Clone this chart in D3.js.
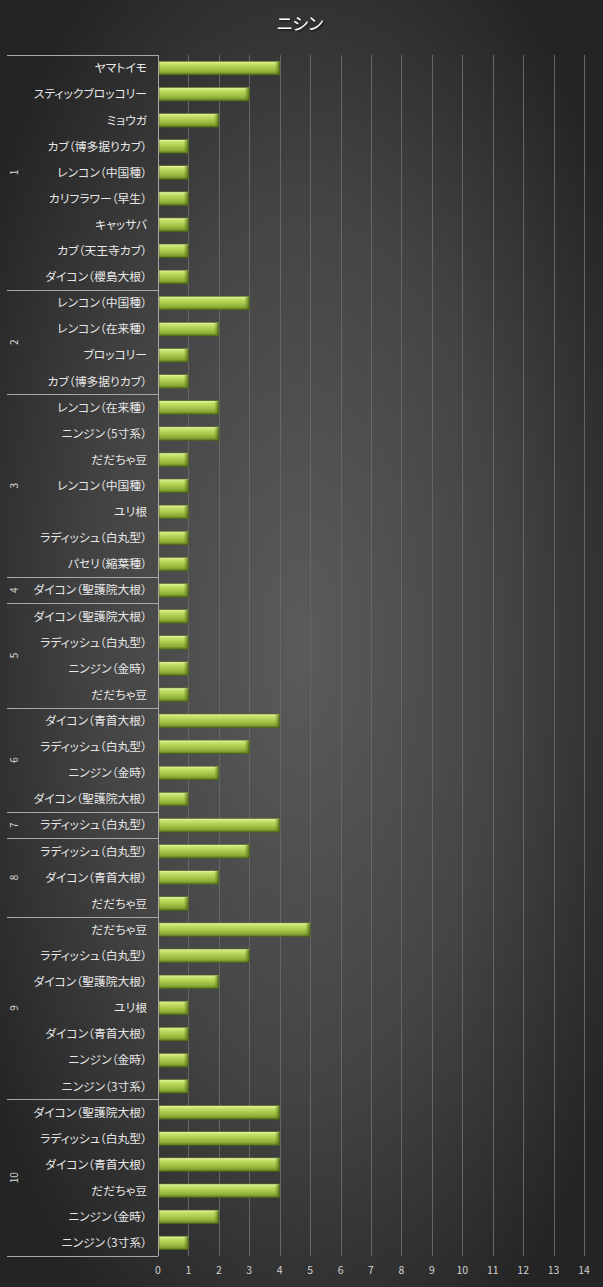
<!DOCTYPE html>
<html><head><meta charset="utf-8">
<script src="https://cdn.jsdelivr.net/npm/d3@7"></script>
<style>
html,body{margin:0;padding:0;background:#2a2a2a;}
svg{display:block;}
text{font-feature-settings:"palt";}
</style></head>
<body>
<div id="chart"></div>
<script>
const title = "ニシン";
const groupNames = ["1","2","3","4","5","6","7","8","9","10"];
const groupSizes = [9,4,7,1,4,4,1,3,7,6];
const categories = [
 "ヤマトイモ","スティックブロッコリー","ミョウガ","カブ（博多据りカブ）","レンコン（中国種）","カリフラワー（早生）","キャッサバ","カブ（天王寺カブ）","ダイコン（櫻島大根）",
 "レンコン（中国種）","レンコン（在来種）","ブロッコリー","カブ（博多据りカブ）",
 "レンコン（在来種）","ニンジン（5寸系）","だだちゃ豆","レンコン（中国種）","ユリ根","ラディッシュ（白丸型）","パセリ（縮葉種）",
 "ダイコン（聖護院大根）",
 "ダイコン（聖護院大根）","ラディッシュ（白丸型）","ニンジン（金時）","だだちゃ豆",
 "ダイコン（青首大根）","ラディッシュ（白丸型）","ニンジン（金時）","ダイコン（聖護院大根）",
 "ラディッシュ（白丸型）",
 "ラディッシュ（白丸型）","ダイコン（青首大根）","だだちゃ豆",
 "だだちゃ豆","ラディッシュ（白丸型）","ダイコン（聖護院大根）","ユリ根","ダイコン（青首大根）","ニンジン（金時）","ニンジン（3寸系）",
 "ダイコン（聖護院大根）","ラディッシュ（白丸型）","ダイコン（青首大根）","だだちゃ豆","ニンジン（金時）","ニンジン（3寸系）"
];
const values = [
 4,3,2,1,1,1,1,1,1,
 3,2,1,1,
 2,2,1,1,1,1,1,
 1,
 1,1,1,1,
 4,3,2,1,
 4,
 3,2,1,
 5,3,2,1,1,1,1,
 4,4,4,4,2,1
];
const xTicks = [0,1,2,3,4,5,6,7,8,9,10,11,12,13,14];

const W = 603, H = 1287;
const margin = {top:55, bottom:31, left:158, right:19};
const font = "'Noto Sans CJK JP','Noto Sans',sans-serif";

const rows = categories.map((c,i)=>({key:i, cat:c, val:values[i]}));

const svg = d3.select("#chart").append("svg").attr("width",W).attr("height",H);
const defs = svg.append("defs");

const bg = defs.append("radialGradient").attr("id","bg").attr("cx","50%").attr("cy","50%").attr("r","62%");
bg.append("stop").attr("offset","0%").attr("stop-color","#5b5b5b");
bg.append("stop").attr("offset","55%").attr("stop-color","#444444");
bg.append("stop").attr("offset","100%").attr("stop-color","#242424");
svg.append("rect").attr("width",W).attr("height",H).attr("fill","url(#bg)");

const bar = defs.append("linearGradient").attr("id","barg").attr("x1",0).attr("y1",0).attr("x2",0).attr("y2",1);
[["0%","#eaf7b0"],["18%","#c8e26c"],["50%","#aac94c"],["80%","#8bab36"],["100%","#55701c"]]
 .forEach(s=>bar.append("stop").attr("offset",s[0]).attr("stop-color",s[1]));
const endg = defs.append("linearGradient").attr("id","endg").attr("x1",0).attr("y1",0).attr("x2",1).attr("y2",0);
endg.append("stop").attr("offset","0%").attr("stop-color","#6f8e24").attr("stop-opacity",0);
endg.append("stop").attr("offset","100%").attr("stop-color","#4a6214").attr("stop-opacity",0.9);

const flt = defs.append("filter").attr("id","ts").attr("x","-20%").attr("y","-20%").attr("width","140%").attr("height","140%");
flt.append("feDropShadow").attr("dx",1).attr("dy",1).attr("stdDeviation",0.8).attr("flood-color","#000").attr("flood-opacity",0.8);

const x = d3.scaleLinear().domain([0,14]).range([margin.left, W-margin.right]);
const y = d3.scaleBand().domain(rows.map(r=>r.key)).range([margin.top, H-margin.bottom]).paddingInner(0.48).paddingOuter(0.24);

// gridlines
svg.append("g").selectAll("line").data(xTicks.filter(t=>t>0)).join("line")
 .attr("x1",d=>Math.round(x(d))+0.5).attr("x2",d=>Math.round(x(d))+0.5)
 .attr("y1",margin.top).attr("y2",H-margin.bottom)
 .attr("stroke","#666666").attr("stroke-width",1);

// bars
const bars = svg.append("g").selectAll("g").data(rows).join("g");
bars.append("rect")
 .attr("x",x(0)+1).attr("y",d=>y(d.key))
 .attr("width",d=>x(d.val)-x(0)-1).attr("height",y.bandwidth())
 .attr("fill","url(#barg)").attr("stroke","#4b6316").attr("stroke-width",0.6);
bars.append("rect")
 .attr("x",d=>x(d.val)-5).attr("y",d=>y(d.key)+0.5)
 .attr("width",5).attr("height",y.bandwidth()-1)
 .attr("fill","url(#endg)");

// y axis line
svg.append("line").attr("x1",Math.round(x(0))+0.5).attr("x2",Math.round(x(0))+0.5).attr("y1",margin.top).attr("y2",H-margin.bottom)
 .attr("stroke","#a8a8a8");

// category labels
svg.append("g").selectAll("text").data(rows).join("text")
 .attr("x",x(0)-11).attr("y",d=>y(d.key)+y.bandwidth()/2)
 .attr("dy","0.36em").attr("text-anchor","end")
 .attr("font-family",font).attr("font-size",11.8).attr("fill","#e8e8e8")
 .text(d=>d.cat);

// group separators and labels
const bounds = [0];
groupSizes.forEach(n=>bounds.push(bounds[bounds.length-1]+n));
const half = (y.step()-y.bandwidth())/2;
const yb = i => i===rows.length ? (y(rows.length-1)+y.bandwidth()+half) : y(i) - half;
svg.append("g").selectAll("line").data(bounds).join("line")
 .attr("x1",7).attr("x2",x(0))
 .attr("y1",d=>Math.round(yb(d))+0.5).attr("y2",d=>Math.round(yb(d))+0.5)
 .attr("stroke","#a8a8a8").attr("stroke-width",1);
svg.append("g").selectAll("text").data(groupNames).join("text")
 .attr("transform",(d,g)=>`translate(14,${(yb(bounds[g])+yb(bounds[g+1]))/2}) rotate(-90)`)
 .attr("text-anchor","middle").attr("dy","0.35em")
 .attr("font-family",font).attr("font-size",10).attr("fill","#d8d8d8")
 .text(d=>d);

// x tick labels
svg.append("g").selectAll("text").data(xTicks).join("text")
 .attr("x",d=>x(d)).attr("y",H-margin.bottom+18)
 .attr("text-anchor","middle")
 .attr("font-family",font).attr("font-size",10.5).attr("fill","#d0d0d0")
 .text(d=>d);

// title
svg.append("text").attr("x",300).attr("y",30).attr("text-anchor","middle")
 .attr("font-family",font).attr("font-size",17).attr("fill","#ffffff")
 .attr("filter","url(#ts)").text(title);
</script>
</body></html>
